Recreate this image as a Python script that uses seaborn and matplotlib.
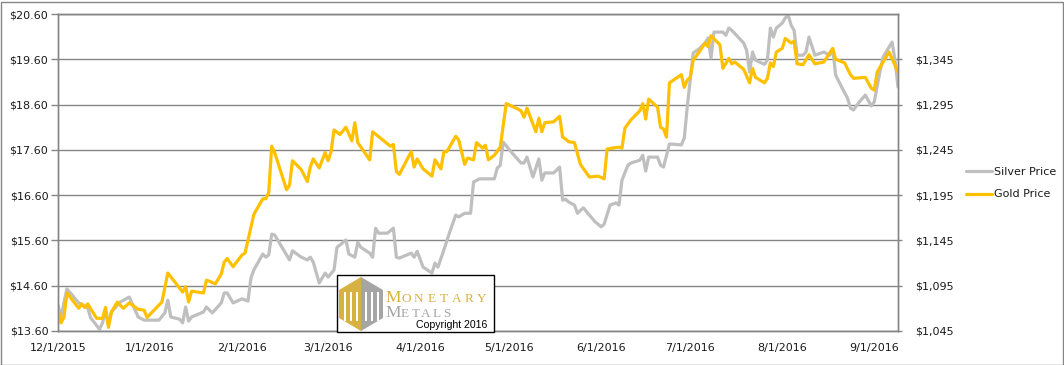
import numpy as np
import pandas as pd
import matplotlib
matplotlib.use("Agg")
import matplotlib.pyplot as plt
import matplotlib.dates as mdates
from matplotlib.ticker import FuncFormatter, FixedLocator
from matplotlib.patches import Polygon, Rectangle
from matplotlib.lines import Line2D
import seaborn as sns

sns.set_theme(style="white")
plt.rcParams["font.family"] = ["DejaVu Sans"]

# ---------------------------------------------------------------------
# data
# ---------------------------------------------------------------------
silver_dates = [
    "2015-12-01", "2015-12-02", "2015-12-04", "2015-12-08", "2015-12-11", "2015-12-12",
    "2015-12-15", "2015-12-16", "2015-12-17", "2015-12-18", "2015-12-19", "2015-12-22",
    "2015-12-25", "2015-12-28", "2015-12-30", "2016-01-04", "2016-01-06", "2016-01-07",
    "2016-01-08", "2016-01-11", "2016-01-12", "2016-01-13", "2016-01-14", "2016-01-15",
    "2016-01-19", "2016-01-20", "2016-01-22", "2016-01-25", "2016-01-26", "2016-01-27",
    "2016-01-29", "2016-02-01", "2016-02-03", "2016-02-04", "2016-02-05", "2016-02-08",
    "2016-02-09", "2016-02-10", "2016-02-11", "2016-02-12", "2016-02-17", "2016-02-18",
    "2016-02-21", "2016-02-23", "2016-02-24", "2016-02-25", "2016-02-27", "2016-02-29",
    "2016-03-01", "2016-03-03", "2016-03-04", "2016-03-05", "2016-03-07", "2016-03-08",
    "2016-03-10", "2016-03-11", "2016-03-12", "2016-03-15", "2016-03-16", "2016-03-17",
    "2016-03-18", "2016-03-21", "2016-03-23", "2016-03-24", "2016-03-25", "2016-03-29",
    "2016-03-30", "2016-03-31", "2016-04-02", "2016-04-05", "2016-04-06", "2016-04-07",
    "2016-04-09", "2016-04-11", "2016-04-13", "2016-04-14", "2016-04-16", "2016-04-18",
    "2016-04-19", "2016-04-21", "2016-04-26", "2016-04-27", "2016-04-28", "2016-04-29",
    "2016-05-02", "2016-05-05", "2016-05-06", "2016-05-07", "2016-05-09", "2016-05-11",
    "2016-05-12", "2016-05-13", "2016-05-16", "2016-05-18", "2016-05-19", "2016-05-20",
    "2016-05-21", "2016-05-23", "2016-05-24", "2016-05-26", "2016-05-28", "2016-05-30",
    "2016-06-01", "2016-06-02", "2016-06-04", "2016-06-06", "2016-06-07", "2016-06-08",
    "2016-06-10", "2016-06-11", "2016-06-14", "2016-06-15", "2016-06-16", "2016-06-17",
    "2016-06-20", "2016-06-21", "2016-06-22", "2016-06-24", "2016-06-28", "2016-06-29",
    "2016-06-30", "2016-07-02", "2016-07-04", "2016-07-06", "2016-07-07", "2016-07-08",
    "2016-07-09", "2016-07-12", "2016-07-13", "2016-07-14", "2016-07-15", "2016-07-19",
    "2016-07-20", "2016-07-21", "2016-07-22", "2016-07-23", "2016-07-26", "2016-07-27",
    "2016-07-28", "2016-07-29", "2016-07-30", "2016-08-01", "2016-08-02", "2016-08-03",
    "2016-08-04", "2016-08-05", "2016-08-06", "2016-08-08", "2016-08-09", "2016-08-10",
    "2016-08-12", "2016-08-15", "2016-08-17", "2016-08-18", "2016-08-19", "2016-08-21",
    "2016-08-23", "2016-08-24", "2016-08-25", "2016-08-27", "2016-08-29", "2016-08-31",
    "2016-09-01", "2016-09-03", "2016-09-04", "2016-09-07", "2016-09-08", "2016-09-09",
]
silver_prices = [
    14.17, 13.91, 14.53, 14.22, 14.11, 13.89,
    13.64, 13.78, 14.05, 13.75, 14.02, 14.24,
    14.35, 13.91, 13.84, 13.84, 14.00, 14.28,
    13.91, 13.86, 13.78, 14.13, 13.82, 13.91,
    14.02, 14.13, 14.00, 14.22, 14.44, 14.44,
    14.22, 14.31, 14.26, 14.77, 14.95, 15.30,
    15.23, 15.28, 15.74, 15.72, 15.17, 15.37,
    15.23, 15.17, 15.23, 15.12, 14.66, 14.88,
    14.79, 14.95, 15.45, 15.50, 15.61, 15.30,
    15.23, 15.56, 15.45, 15.32, 15.23, 15.87,
    15.76, 15.76, 15.87, 15.23, 15.21, 15.32,
    15.23, 15.36, 15.01, 14.88, 15.10, 15.01,
    15.39, 15.79, 16.16, 16.12, 16.20, 16.20,
    16.89, 16.96, 16.96, 17.20, 17.26, 17.77,
    17.53, 17.31, 17.31, 17.44, 17.00, 17.40,
    16.93, 17.09, 17.09, 17.22, 16.49, 16.51,
    16.45, 16.38, 16.20, 16.32, 16.16, 16.01,
    15.90, 15.96, 16.38, 16.43, 16.38, 16.93,
    17.26, 17.31, 17.37, 17.48, 17.13, 17.44,
    17.44, 17.26, 17.22, 17.73, 17.71, 17.86,
    18.55, 19.74, 19.83, 19.96, 20.07, 19.63,
    20.20, 20.20, 20.13, 20.29, 20.24, 19.96,
    19.80, 19.32, 19.76, 19.58, 19.49, 19.58,
    20.29, 20.09, 20.29, 20.40, 20.51, 20.58,
    20.35, 20.24, 19.69, 19.69, 19.76, 20.09,
    19.69, 19.76, 19.69, 19.83, 19.25, 18.99,
    18.74, 18.52, 18.48, 18.66, 18.81, 18.57,
    18.66, 19.36, 19.65, 19.98, 19.58, 18.99,
]

gold_dates = [
    "2015-12-01", "2015-12-02", "2015-12-03", "2015-12-04", "2015-12-08", "2015-12-09",
    "2015-12-10", "2015-12-11", "2015-12-14", "2015-12-16", "2015-12-17", "2015-12-18",
    "2015-12-19", "2015-12-21", "2015-12-23", "2015-12-25", "2015-12-28", "2015-12-30",
    "2015-12-31", "2016-01-05", "2016-01-07", "2016-01-12", "2016-01-13", "2016-01-14",
    "2016-01-15", "2016-01-19", "2016-01-20", "2016-01-21", "2016-01-23", "2016-01-25",
    "2016-01-26", "2016-01-27", "2016-01-29", "2016-02-01", "2016-02-02", "2016-02-03",
    "2016-02-05", "2016-02-08", "2016-02-09", "2016-02-10", "2016-02-11", "2016-02-12",
    "2016-02-16", "2016-02-17", "2016-02-18", "2016-02-21", "2016-02-23", "2016-02-24",
    "2016-02-25", "2016-02-27", "2016-02-29", "2016-03-01", "2016-03-02", "2016-03-03",
    "2016-03-05", "2016-03-07", "2016-03-09", "2016-03-10", "2016-03-11", "2016-03-15",
    "2016-03-16", "2016-03-22", "2016-03-23", "2016-03-24", "2016-03-25", "2016-03-29",
    "2016-03-30", "2016-03-31", "2016-04-02", "2016-04-05", "2016-04-06", "2016-04-08",
    "2016-04-09", "2016-04-10", "2016-04-13", "2016-04-14", "2016-04-16", "2016-04-17",
    "2016-04-19", "2016-04-20", "2016-04-22", "2016-04-23", "2016-04-24", "2016-04-26",
    "2016-04-28", "2016-04-30", "2016-05-04", "2016-05-05", "2016-05-06", "2016-05-07",
    "2016-05-10", "2016-05-11", "2016-05-12", "2016-05-13", "2016-05-16", "2016-05-18",
    "2016-05-19", "2016-05-20", "2016-05-21", "2016-05-23", "2016-05-25", "2016-05-28",
    "2016-05-31", "2016-06-02", "2016-06-03", "2016-06-07", "2016-06-08", "2016-06-09",
    "2016-06-11", "2016-06-14", "2016-06-15", "2016-06-16", "2016-06-17", "2016-06-20",
    "2016-06-21", "2016-06-22", "2016-06-23", "2016-06-24", "2016-06-28", "2016-06-29",
    "2016-06-30", "2016-07-01", "2016-07-02", "2016-07-04", "2016-07-06", "2016-07-07",
    "2016-07-08", "2016-07-11", "2016-07-12", "2016-07-14", "2016-07-15", "2016-07-16",
    "2016-07-19", "2016-07-21", "2016-07-22", "2016-07-23", "2016-07-26", "2016-07-27",
    "2016-07-28", "2016-07-29", "2016-07-30", "2016-08-01", "2016-08-02", "2016-08-04",
    "2016-08-05", "2016-08-06", "2016-08-08", "2016-08-10", "2016-08-12", "2016-08-15",
    "2016-08-18", "2016-08-19", "2016-08-22", "2016-08-24", "2016-08-25", "2016-08-29",
    "2016-08-31", "2016-09-01", "2016-09-02", "2016-09-06", "2016-09-09",
]
gold_prices = [
    1070, 1054, 1060, 1087, 1070, 1075,
    1071, 1075, 1059, 1059, 1071, 1049,
    1066, 1077, 1070, 1076, 1069, 1068,
    1060, 1077, 1109, 1088, 1094, 1077,
    1089, 1087, 1101, 1100, 1097, 1108,
    1121, 1125, 1116, 1129, 1131, 1145,
    1174, 1191, 1191, 1198, 1249, 1242,
    1201, 1206, 1233, 1223, 1210, 1226,
    1235, 1225, 1242, 1233, 1243, 1267,
    1262, 1270, 1255, 1275, 1253, 1234,
    1265, 1249, 1251, 1221, 1218, 1243,
    1226, 1235, 1224, 1216, 1234, 1224,
    1243, 1243, 1260, 1256, 1229, 1236,
    1234, 1253, 1247, 1250, 1234, 1239,
    1248, 1296, 1290, 1288, 1281, 1291,
    1265, 1280, 1265, 1275, 1276, 1282,
    1259, 1257, 1254, 1253, 1229, 1215,
    1216, 1213, 1246, 1248, 1247, 1269,
    1278, 1288, 1296, 1279, 1301, 1292,
    1270, 1268, 1259, 1319, 1328, 1314,
    1322, 1325, 1344, 1353, 1363, 1359,
    1371, 1361, 1335, 1346, 1340, 1342,
    1334, 1319, 1335, 1325, 1319, 1324,
    1341, 1337, 1353, 1357, 1368, 1363,
    1365, 1340, 1339, 1350, 1340, 1342,
    1357, 1345, 1341, 1328, 1324, 1325,
    1313, 1311, 1331, 1353, 1331,
]

silver_ticks = [13.60, 14.60, 15.60, 16.60, 17.60, 18.60, 19.60, 20.60]
gold_ticks = [1045, 1095, 1145, 1195, 1245, 1295, 1345]

silver = pd.DataFrame({"date": pd.to_datetime(silver_dates), "price": silver_prices})
gold = pd.DataFrame({"date": pd.to_datetime(gold_dates), "price": gold_prices})

SILVER_C = "#BFBFBF"
GOLD_C = "#FFC000"
GRID_C = "#868686"
TXT_C = "#1a1a1a"
W, H = 1064, 365

fig = plt.figure(figsize=(W / 100, H / 100), dpi=100)
fig.subplots_adjust(left=58 / W, right=898 / W, bottom=1 - 331 / H, top=1 - 14 / H)
ax = fig.add_subplot(111)
ax2 = ax.twinx()

sns.lineplot(data=silver, x="date", y="price", ax=ax, color=SILVER_C, linewidth=2.3)
sns.lineplot(data=gold, x="date", y="price", ax=ax2, color=GOLD_C, linewidth=2.3)

ax.set_xlim(pd.Timestamp("2015-12-01"), pd.Timestamp("2016-09-09"))
ax.set_ylim(13.60, 20.60)
ax2.set_ylim(1045, 1395)
ax.yaxis.set_major_locator(FixedLocator(silver_ticks))
ax2.yaxis.set_major_locator(FixedLocator(gold_ticks))
ax.yaxis.set_major_formatter(FuncFormatter(lambda v, p: f"${v:.2f}"))
ax2.yaxis.set_major_formatter(FuncFormatter(lambda v, p: f"${v:,.0f}"))
ax.xaxis.set_major_locator(mdates.MonthLocator())
ax.xaxis.set_major_formatter(FuncFormatter(
    lambda v, p: (lambda d: f"{d.month}/{d.day}/{d.year}")(mdates.num2date(v))))

for a in (ax, ax2):
    a.set_xlabel(""); a.set_ylabel("")
    for s in a.spines.values():
        s.set_color(GRID_C); s.set_linewidth(1.0)
    a.tick_params(colors=GRID_C, labelcolor=TXT_C, labelsize=8, length=3, width=1)
ax.tick_params(axis="y", length=5, pad=2)
ax.tick_params(axis="x", pad=6)
ax2.tick_params(axis="y", pad=9)
ax.yaxis.grid(True, color=GRID_C, linewidth=1.0)
ax.set_axisbelow(True)
ax.patch.set_facecolor("white")
ax2.patch.set_visible(False)

# legend
handles = [Line2D([], [], color=SILVER_C, lw=2.3), Line2D([], [], color=GOLD_C, lw=2.3)]
fig.legend(handles, ["Silver Price", "Gold Price"], loc="center left",
           bbox_to_anchor=(960 / W, 1 - 183 / H), frameon=False, fontsize=8,
           handlelength=2.4, handletextpad=0.15, labelspacing=1.15, borderpad=0,
           labelcolor=TXT_C)

# watermark box
def fp(x, y):
    return (x / W, 1 - y / H)

fig.patches.append(Rectangle(fp(337, 332), 157 / W, 57 / H, transform=fig.transFigure,
                             facecolor="white", edgecolor="black", lw=1.0, zorder=5))
LOGO_GOLD = "#D8B143"
LOGO_GRAY = "#A5A5A5"
left_half = [fp(361, 277), fp(339, 290), fp(339, 318), fp(361, 331)]
right_half = [fp(361, 277), fp(383, 290), fp(383, 318), fp(361, 331)]
fig.patches.append(Polygon(left_half, closed=True, transform=fig.transFigure,
                           facecolor=LOGO_GOLD, edgecolor="none", zorder=6))
fig.patches.append(Polygon(right_half, closed=True, transform=fig.transFigure,
                           facecolor=LOGO_GRAY, edgecolor="none", zorder=6))
for bx in (344, 350, 356, 365, 371, 377):
    fig.patches.append(Rectangle(fp(bx, 321), 2.2 / W, 29 / H, transform=fig.transFigure,
                                 facecolor="white", edgecolor="none", zorder=7))

serif = ["Liberation Serif", "DejaVu Serif"]
fig.text(*fp(385, 302), "M", color=LOGO_GOLD, fontsize=12.5, family=serif,
         ha="left", va="baseline", zorder=8)
for i, ch in enumerate("ONETARY"):
    fig.text(*fp(406 + i * 12.6, 302), ch, color=LOGO_GOLD, fontsize=9.5, family=serif,
             ha="center", va="baseline", zorder=8)
fig.text(*fp(385, 317), "M", color=LOGO_GRAY, fontsize=12.5, family=serif,
         ha="left", va="baseline", zorder=8)
for i, ch in enumerate("ETALS"):
    fig.text(*fp(405 + i * 10.4, 317), ch, color=LOGO_GRAY, fontsize=9.5, family=serif,
             ha="center", va="baseline", zorder=8)
fig.text(*fp(487, 328), "Copyright 2016", color="black", fontsize=7.6,
         family=["Liberation Sans", "DejaVu Sans"], ha="right", va="baseline", zorder=8)

# outer chart border
fig.patches.append(Rectangle((0.5 / W, 0.5 / H), (W - 2) / W, (H - 2) / H,
                             transform=fig.transFigure, facecolor="none",
                             edgecolor=GRID_C, lw=1.0, zorder=9))

fig.savefig("out.png", dpi=100)
